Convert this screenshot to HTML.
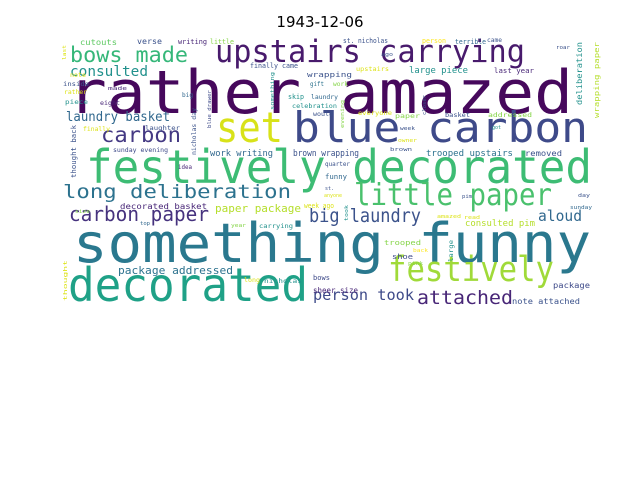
<!DOCTYPE html>
<html><head><meta charset="utf-8"><style>
html,body{margin:0;padding:0;background:#fff;}
svg{display:block;}
text{font-family:"DejaVu Sans Mono","Liberation Mono",monospace;}
#title{font-family:"DejaVu Sans","Liberation Sans",sans-serif;}
</style></head><body>
<svg width="640" height="480" viewBox="0 0 640 480">
<rect width="640" height="480" fill="#fff"/>
<text id="title" x="320" y="27" font-size="15" text-anchor="middle" fill="#000">1943-12-06</text>
<g lengthAdjust="spacingAndGlyphs">
<text x="68" y="113" font-size="60" fill="#46085c" textLength="505" lengthAdjust="spacingAndGlyphs">rather amazed</text>
<text x="215" y="62" font-size="31" fill="#481a6c" textLength="310" lengthAdjust="spacingAndGlyphs">upstairs carrying</text>
<text x="216" y="142" font-size="42" fill="#d8e219" textLength="67" lengthAdjust="spacingAndGlyphs">set</text>
<text x="293" y="142" font-size="42" fill="#3e4a89" textLength="295" lengthAdjust="spacingAndGlyphs">blue carbon</text>
<text x="86" y="183" font-size="46" fill="#3dbc74" textLength="506" lengthAdjust="spacingAndGlyphs">festively decorated</text>
<text x="70" y="62" font-size="21" fill="#35b779" textLength="118" lengthAdjust="spacingAndGlyphs">bows made</text>
<text x="70" y="76" font-size="14" fill="#21918c" textLength="78" lengthAdjust="spacingAndGlyphs">consulted</text>
<text x="66" y="121" font-size="13" fill="#31688e" textLength="104" lengthAdjust="spacingAndGlyphs">laundry basket</text>
<text x="101" y="142" font-size="21" fill="#443983" textLength="80" lengthAdjust="spacingAndGlyphs">carbon</text>
<text x="63" y="198" font-size="19" fill="#2c728e" textLength="228" lengthAdjust="spacingAndGlyphs">long deliberation</text>
<text x="354" y="205" font-size="30" fill="#4ac16d" textLength="198" lengthAdjust="spacingAndGlyphs">little paper</text>
<text x="69" y="221" font-size="20" fill="#46327e" textLength="140" lengthAdjust="spacingAndGlyphs">carbon paper</text>
<text x="309" y="222" font-size="19" fill="#3b528b" textLength="112" lengthAdjust="spacingAndGlyphs">big laundry</text>
<text x="538" y="221" font-size="15" fill="#31688e" textLength="44" lengthAdjust="spacingAndGlyphs">aloud</text>
<text x="73" y="262" font-size="54" fill="#2a788e" textLength="518" lengthAdjust="spacingAndGlyphs">something funny</text>
<text x="68" y="301" font-size="46" fill="#1fa187" textLength="240" lengthAdjust="spacingAndGlyphs">decorated</text>
<text x="388" y="281" font-size="35" fill="#a0da39" textLength="166" lengthAdjust="spacingAndGlyphs">festively</text>
<text x="313" y="300" font-size="15" fill="#3e4a89" textLength="101" lengthAdjust="spacingAndGlyphs">person took</text>
<text x="417" y="304" font-size="19" fill="#482677" textLength="96" lengthAdjust="spacingAndGlyphs">attached</text>
<text x="118" y="274" font-size="11" fill="#2c728e" textLength="115" lengthAdjust="spacingAndGlyphs">package addressed</text>
<text x="215" y="212" font-size="11" fill="#b5de2b" textLength="86" lengthAdjust="spacingAndGlyphs">paper package</text>
<text x="120" y="209" font-size="8" fill="#482677" textLength="87" lengthAdjust="spacingAndGlyphs">decorated basket</text>
<text x="210" y="156" font-size="9" fill="#31688e" textLength="63" lengthAdjust="spacingAndGlyphs">work writing</text>
<text x="293" y="156" font-size="9" fill="#3b528b" textLength="66" lengthAdjust="spacingAndGlyphs">brown wrapping</text>
<text x="426" y="156" font-size="9" fill="#2c728e" textLength="87" lengthAdjust="spacingAndGlyphs">trooped upstairs</text>
<text x="525" y="156" font-size="8" fill="#3b528b" textLength="37" lengthAdjust="spacingAndGlyphs">removed</text>
<text x="409" y="73" font-size="9" fill="#21918c" textLength="59" lengthAdjust="spacingAndGlyphs">large piece</text>
<text x="494" y="73" font-size="7" fill="#482677" textLength="40" lengthAdjust="spacingAndGlyphs">last year</text>
<text x="465" y="226" font-size="9" fill="#b5de2b" textLength="70" lengthAdjust="spacingAndGlyphs">consulted pim</text>
<text x="512" y="304" font-size="8" fill="#3b528b" textLength="68" lengthAdjust="spacingAndGlyphs">note attached</text>
<text x="553" y="288" font-size="8" fill="#3e4a89" textLength="37" lengthAdjust="spacingAndGlyphs">package</text>
<text x="313" y="293" font-size="8" fill="#482677" textLength="45" lengthAdjust="spacingAndGlyphs">sheer size</text>
<text x="313" y="280" font-size="7" fill="#3e4a89" textLength="17" lengthAdjust="spacingAndGlyphs">bows</text>
<text x="80" y="45" font-size="8" fill="#5ec962" textLength="37" lengthAdjust="spacingAndGlyphs">cutouts</text>
<text x="137" y="44" font-size="8" fill="#3b528b" textLength="25" lengthAdjust="spacingAndGlyphs">verse</text>
<text x="178" y="44" font-size="7" fill="#482677" textLength="29" lengthAdjust="spacingAndGlyphs">writing</text>
<text x="210" y="44" font-size="7" fill="#86d549" textLength="24" lengthAdjust="spacingAndGlyphs">little</text>
<text x="343" y="43" font-size="7" fill="#3b528b" textLength="45" lengthAdjust="spacingAndGlyphs">st. nicholas</text>
<text x="422" y="43" font-size="7" fill="#fde725" textLength="24" lengthAdjust="spacingAndGlyphs">person</text>
<text x="455" y="44" font-size="7" fill="#31688e" textLength="31" lengthAdjust="spacingAndGlyphs">terrible</text>
<text x="487" y="42" font-size="6" fill="#3b528b" textLength="15" lengthAdjust="spacingAndGlyphs">came</text>
<text x="250" y="68" font-size="7" fill="#3b528b" textLength="48" lengthAdjust="spacingAndGlyphs">finally came</text>
<text x="307" y="77" font-size="7" fill="#3b528b" textLength="45" lengthAdjust="spacingAndGlyphs">wrapping</text>
<text x="310" y="86" font-size="6" fill="#2c728e" textLength="14" lengthAdjust="spacingAndGlyphs">gift</text>
<text x="288" y="99" font-size="7" fill="#21918c" textLength="16" lengthAdjust="spacingAndGlyphs">skip</text>
<text x="311" y="99" font-size="6" fill="#31688e" textLength="27" lengthAdjust="spacingAndGlyphs">laundry</text>
<text x="292" y="108" font-size="6" fill="#21918c" textLength="45" lengthAdjust="spacingAndGlyphs">celebration</text>
<text x="313" y="116" font-size="6" fill="#3b528b" textLength="20" lengthAdjust="spacingAndGlyphs">would</text>
<text x="356" y="71" font-size="6" fill="#dde318" textLength="33" lengthAdjust="spacingAndGlyphs">upstairs</text>
<text x="381" y="56" font-size="5" fill="#3b528b" textLength="12" lengthAdjust="spacingAndGlyphs">ago</text>
<text x="556" y="49" font-size="5" fill="#3b528b" textLength="14" lengthAdjust="spacingAndGlyphs">roar</text>
<text x="333" y="86" font-size="6" fill="#86d549" textLength="15" lengthAdjust="spacingAndGlyphs">work</text>
<text x="70" y="77" font-size="6" fill="#dde318" textLength="16" lengthAdjust="spacingAndGlyphs">note</text>
<text x="63" y="86" font-size="6" fill="#3b528b" textLength="26" lengthAdjust="spacingAndGlyphs">inside</text>
<text x="64" y="94" font-size="6" fill="#dde318" textLength="23" lengthAdjust="spacingAndGlyphs">rather</text>
<text x="65" y="104" font-size="6" fill="#21918c" textLength="23" lengthAdjust="spacingAndGlyphs">piece</text>
<text x="108" y="90" font-size="5" fill="#482677" textLength="19" lengthAdjust="spacingAndGlyphs">made</text>
<text x="100" y="105" font-size="6" fill="#482677" textLength="20" lengthAdjust="spacingAndGlyphs">eight</text>
<text x="182" y="97" font-size="6" fill="#31688e" textLength="11" lengthAdjust="spacingAndGlyphs">big</text>
<text x="83" y="131" font-size="6" fill="#dde318" textLength="27" lengthAdjust="spacingAndGlyphs">finally</text>
<text x="145" y="130" font-size="6" fill="#3b528b" textLength="35" lengthAdjust="spacingAndGlyphs">laughter</text>
<text x="113" y="152" font-size="6" fill="#3e4a89" textLength="55" lengthAdjust="spacingAndGlyphs">sunday evening</text>
<text x="178" y="169" font-size="6" fill="#482677" textLength="14" lengthAdjust="spacingAndGlyphs">idea</text>
<text x="358" y="115" font-size="6" fill="#dde318" textLength="34" lengthAdjust="spacingAndGlyphs">everyone</text>
<text x="395" y="118" font-size="6" fill="#86d549" textLength="25" lengthAdjust="spacingAndGlyphs">paper</text>
<text x="445" y="117" font-size="6" fill="#3b528b" textLength="25" lengthAdjust="spacingAndGlyphs">basket</text>
<text x="488" y="117" font-size="6" fill="#86d549" textLength="44" lengthAdjust="spacingAndGlyphs">addressed</text>
<text x="400" y="130" font-size="5" fill="#3b528b" textLength="15" lengthAdjust="spacingAndGlyphs">week</text>
<text x="492" y="129" font-size="5" fill="#21918c" textLength="9" lengthAdjust="spacingAndGlyphs">got</text>
<text x="398" y="142" font-size="5" fill="#dde318" textLength="19" lengthAdjust="spacingAndGlyphs">owner</text>
<text x="390" y="151" font-size="5" fill="#3b528b" textLength="22" lengthAdjust="spacingAndGlyphs">brown</text>
<text x="325" y="166" font-size="6" fill="#3b528b" textLength="25" lengthAdjust="spacingAndGlyphs">quarter</text>
<text x="325" y="179" font-size="7" fill="#31688e" textLength="22" lengthAdjust="spacingAndGlyphs">funny</text>
<text x="325" y="190" font-size="5" fill="#3b528b" textLength="9" lengthAdjust="spacingAndGlyphs">st.</text>
<text x="324" y="197" font-size="5" fill="#dde318" textLength="18" lengthAdjust="spacingAndGlyphs">anyone</text>
<text x="304" y="208" font-size="7" fill="#dde318" textLength="30" lengthAdjust="spacingAndGlyphs">week ago</text>
<text x="75" y="213" font-size="5" fill="#86d549" textLength="15" lengthAdjust="spacingAndGlyphs">size</text>
<text x="140" y="225" font-size="5" fill="#31688e" textLength="10" lengthAdjust="spacingAndGlyphs">top</text>
<text x="231" y="227" font-size="5" fill="#86d549" textLength="15" lengthAdjust="spacingAndGlyphs">year</text>
<text x="259" y="228" font-size="6" fill="#21918c" textLength="34" lengthAdjust="spacingAndGlyphs">carrying</text>
<text x="244" y="282" font-size="6" fill="#dde318" textLength="16" lengthAdjust="spacingAndGlyphs">long</text>
<text x="264" y="283" font-size="6" fill="#21918c" textLength="38" lengthAdjust="spacingAndGlyphs">nicholas</text>
<text x="462" y="198" font-size="5" fill="#3b528b" textLength="10" lengthAdjust="spacingAndGlyphs">pim</text>
<text x="578" y="197" font-size="5" fill="#3b528b" textLength="12" lengthAdjust="spacingAndGlyphs">day</text>
<text x="570" y="209" font-size="5" fill="#31688e" textLength="22" lengthAdjust="spacingAndGlyphs">sunday</text>
<text x="437" y="218" font-size="5" fill="#dde318" textLength="24" lengthAdjust="spacingAndGlyphs">amazed</text>
<text x="464" y="219" font-size="5" fill="#dde318" textLength="16" lengthAdjust="spacingAndGlyphs">read</text>
<text x="384" y="245" font-size="7" fill="#86d549" textLength="37" lengthAdjust="spacingAndGlyphs">trooped</text>
<text x="392" y="259" font-size="7" fill="#3e4a89" textLength="21" lengthAdjust="spacingAndGlyphs">shoe</text>
<text x="413" y="252" font-size="5" fill="#fde725" textLength="15" lengthAdjust="spacingAndGlyphs">back</text>
<text x="408" y="265" font-size="5" fill="#86d549" textLength="15" lengthAdjust="spacingAndGlyphs">pink</text>
<text transform="translate(66,60) rotate(-90)" font-size="5" fill="#dde318" textLength="15" lengthAdjust="spacingAndGlyphs">last</text>
<text transform="translate(76,178) rotate(-90)" font-size="7" fill="#3b528b" textLength="53" lengthAdjust="spacingAndGlyphs">thought back</text>
<text transform="translate(196,155) rotate(-90)" font-size="6" fill="#3b528b" textLength="47" lengthAdjust="spacingAndGlyphs">nicholas day</text>
<text transform="translate(211,128) rotate(-90)" font-size="5" fill="#3e4a89" textLength="38" lengthAdjust="spacingAndGlyphs">blue drawer</text>
<text transform="translate(274,110) rotate(-90)" font-size="5" fill="#21918c" textLength="38" lengthAdjust="spacingAndGlyphs">something</text>
<text transform="translate(344,128) rotate(-90)" font-size="5" fill="#86d549" textLength="28" lengthAdjust="spacingAndGlyphs">evening</text>
<text transform="translate(426,115) rotate(-90)" font-size="5" fill="#3b528b" textLength="20" lengthAdjust="spacingAndGlyphs">closer</text>
<text transform="translate(582,105) rotate(-90)" font-size="8" fill="#21918c" textLength="63" lengthAdjust="spacingAndGlyphs">deliberation</text>
<text transform="translate(599,118) rotate(-90)" font-size="7" fill="#b5de2b" textLength="76" lengthAdjust="spacingAndGlyphs">wrapping paper</text>
<text transform="translate(348,221) rotate(-90)" font-size="5" fill="#21918c" textLength="16" lengthAdjust="spacingAndGlyphs">took</text>
<text transform="translate(453,262) rotate(-90)" font-size="6" fill="#21918c" textLength="22" lengthAdjust="spacingAndGlyphs">large</text>
<text transform="translate(67,301) rotate(-90)" font-size="5" fill="#dde318" textLength="41" lengthAdjust="spacingAndGlyphs">thought</text>
</g>
</svg>
</body></html>
